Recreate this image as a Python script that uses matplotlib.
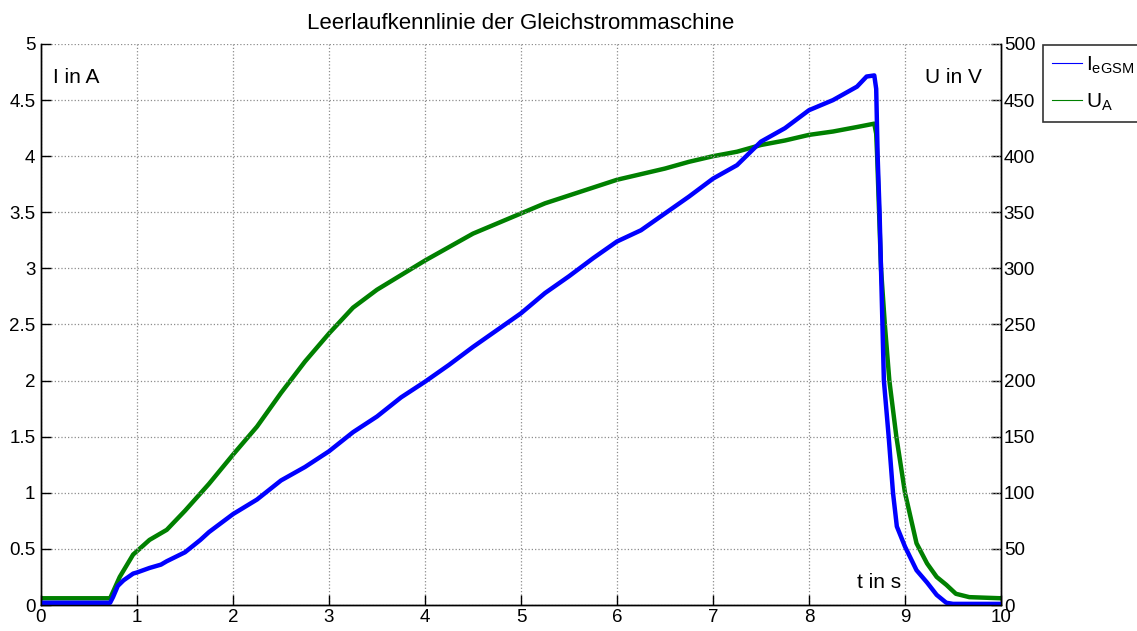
import numpy as np
import matplotlib
matplotlib.use("Agg")
import matplotlib.pyplot as plt
from matplotlib.lines import Line2D

plt.rcParams['font.family'] = ['Liberation Sans', 'DejaVu Sans']
plt.rcParams['mathtext.fontset'] = 'custom'
plt.rcParams['mathtext.rm'] = 'Liberation Sans'

# Feldstrom I_eGSM in A
t_I = [0, 0.72, 0.75, 0.8, 0.86, 0.96, 1.0, 1.13, 1.25, 1.31,
       1.5, 1.66, 1.75, 2.0, 2.25, 2.5, 2.75, 3.0, 3.25, 3.5,
       3.75, 4.0, 4.25, 4.5, 4.75, 5.0, 5.25, 5.5, 5.75, 6.0,
       6.25, 6.5, 6.75, 7.0, 7.25, 7.5, 7.75, 8.0, 8.25, 8.5,
       8.6, 8.68, 8.70, 8.715, 8.735, 8.75, 8.765, 8.78, 8.83, 8.875,
       8.915, 9.0, 9.12, 9.23, 9.33, 9.43, 9.5, 10]
I_eGSM = [0.02, 0.02, 0.07, 0.17, 0.22, 0.28, 0.29, 0.33, 0.36, 0.39,
          0.47, 0.58, 0.65, 0.81, 0.94, 1.11, 1.23, 1.37, 1.54, 1.68,
          1.85, 1.99, 2.14, 2.30, 2.45, 2.60, 2.78, 2.93, 3.09, 3.24,
          3.34, 3.49, 3.64, 3.80, 3.92, 4.13, 4.25, 4.41, 4.50, 4.62,
          4.71, 4.72, 4.6, 4.0, 3.5, 3.0, 2.5, 2.0, 1.5, 1.0,
          0.70, 0.52, 0.31, 0.20, 0.09, 0.02, 0.01, 0.01]

# Ankerspannung U_A in V
t_U = [0, 0.72, 0.82, 0.96, 1.0, 1.13, 1.25, 1.31, 1.5, 1.75,
       2.0, 2.25, 2.5, 2.75, 3.0, 3.25, 3.5, 3.75, 4.0, 4.25,
       4.5, 4.75, 5.0, 5.25, 5.5, 5.75, 6.0, 6.25, 6.5, 6.75,
       7.0, 7.25, 7.5, 7.75, 8.0, 8.25, 8.5, 8.68, 8.70, 8.71,
       8.73, 8.75, 8.79, 8.837, 8.91, 9.0, 9.12, 9.23, 9.33, 9.43,
       9.53, 9.67, 10]
U_A = [6, 6, 25, 45, 48, 58, 64, 67, 84, 108,
       134, 159, 189, 217, 242, 265, 281, 294, 307, 319,
       331, 340, 349, 358, 365, 372, 379, 384, 389, 395,
       400, 404, 410, 414, 419, 422, 426, 429, 420, 400,
       350, 300, 250, 200, 150, 100, 55, 37, 25, 18,
       10, 7, 6]

blue = (0, 0, 1)
green = (0, 0.5, 0)

fig = plt.figure(figsize=(11.37, 6.31), dpi=100)
ax = fig.add_axes([41/1137, 26/631, 960/1137, 561/631])
ax2 = ax.twinx()

ax2.plot(t_U, U_A, color=green, lw=3.2, solid_joinstyle='round')
ax.plot(t_I, I_eGSM, color=blue, lw=3.2, solid_joinstyle='round')

ax.set_zorder(2)
ax.patch.set_visible(False)

ax.set_xlim(0, 10)
ax.set_ylim(0, 5)
ax2.set_ylim(0, 500)
ax.set_xticks(np.arange(0, 11, 1))
ax.set_yticks(np.arange(0, 5.01, 0.5))
ax.set_yticklabels(['0', '0.5', '1', '1.5', '2', '2.5', '3', '3.5', '4', '4.5', '5'])
ax2.set_yticks(np.arange(0, 501, 50))

ax.grid(True, linestyle=':', color='0.55', linewidth=0.9)
for a in (ax, ax2):
    a.spines['top'].set_visible(False)
    for s in a.spines.values():
        s.set_linewidth(1.0)
ax.tick_params(axis='both', direction='in', length=7, width=1, labelsize=13.5, pad=3)
ax.tick_params(axis='y', pad=4)
ax2.tick_params(axis='y', direction='in', length=7, width=1, labelsize=13.5, pad=2)

ax.set_title('Leerlaufkennlinie der Gleichstrommaschine', fontsize=16, pad=11)
ax.text(0.12, 4.7, 'I in A', fontsize=15, va='center')
ax.text(9.8, 4.7, 'U in V', fontsize=15, va='center', ha='right')
ax.text(8.5, 0.2, 't in s', fontsize=15, va='center')

handles = [Line2D([], [], color=blue, lw=0.8), Line2D([], [], color=green, lw=0.8)]
leg = fig.legend(handles, [r'$\mathregular{I_{eGSM}}$', r'$\mathregular{U_A}$'],
                 loc='upper left', bbox_to_anchor=(1043/1137, 586/631),
                 bbox_transform=fig.transFigure, borderaxespad=0,
                 fancybox=False, edgecolor='k', fontsize=15,
                 handlelength=1.4, handletextpad=0.2, borderpad=0.45,
                 labelspacing=0.75)
leg.get_frame().set_linewidth(1.2)

fig.savefig('out.png', dpi=100)
